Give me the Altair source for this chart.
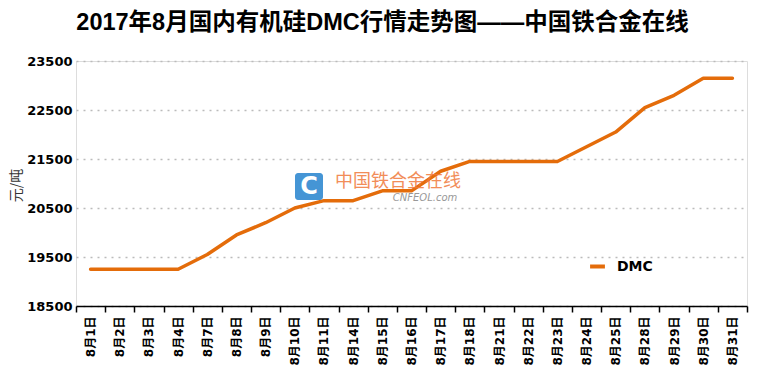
import altair as alt
import pandas as pd

dates = ["8月1日", "8月2日", "8月3日", "8月4日", "8月7日", "8月8日", "8月9日", "8月10日",
         "8月11日", "8月14日", "8月15日", "8月16日", "8月17日", "8月18日", "8月21日", "8月22日",
         "8月23日", "8月24日", "8月25日", "8月28日", "8月29日", "8月30日", "8月31日"]
dmc = [19250, 19250, 19250, 19250, 19550, 19950, 20200, 20500,
       20650, 20650, 20850, 20850, 21250, 21450, 21450, 21450,
       21450, 21750, 22050, 22550, 22800, 23150, 23150]
y_ticks = [18500, 19500, 20500, 21500, 22500, 23500]
series_name = "DMC"

df = pd.DataFrame({"date": dates, "value": dmc, "series": series_name})

ORANGE = "#E46C0A"
LABEL_FONT = "DejaVu Sans, Noto Sans CJK SC"

line = alt.Chart(df).mark_line(strokeWidth=3.5, strokeCap="round", strokeJoin="round").encode(
    x=alt.X("date:N", sort=dates, bandPosition=0.5,
            scale=alt.Scale(type="band", paddingInner=0, paddingOuter=0),
            axis=alt.Axis(title=None, grid=False, labelAngle=270, tickBand="extent",
                          domainColor="#000", domainWidth=1.5, tickColor="#000", tickWidth=1.5,
                          tickSize=6, labelPadding=4, labelFont=LABEL_FONT, labelFontSize=12,
                          labelFontWeight="bold", labelColor="#000")),
    y=alt.Y("value:Q", scale=alt.Scale(domain=[18500, 23500], nice=False, zero=False),
            axis=alt.Axis(title="元/吨", values=y_ticks, format="d", grid=True,
                          gridDash=[2, 5], gridColor="#BBBBBB", gridWidth=1.5,
                          domain=False, ticks=False, labelPadding=4,
                          labelFont=LABEL_FONT, labelFontSize=13, labelFontWeight="bold",
                          labelColor="#000", titleFont="Noto Sans CJK SC", titleFontSize=14,
                          titleFontWeight="normal", titleColor="#333", titleX=-60, titleY=124,
                          titleAngle=270, titleBaseline="middle")),
    color=alt.Color("series:N", scale=alt.Scale(domain=[series_name], range=[ORANGE]),
                    legend=alt.Legend(title=None, orient="none", legendX=512, legendY=196,
                                      symbolType="stroke", symbolStrokeWidth=4, symbolSize=220,
                                      labelFont=LABEL_FONT, labelFontSize=14,
                                      labelFontWeight="bold", labelColor="#000", padding=0,
                                      labelOffset=10)),
)

# watermark (decoration)
wm_box = alt.Chart(pd.DataFrame({"a": [0]})).mark_rect(color="#3B8FD3", cornerRadius=3, opacity=0.95).encode(
    x=alt.value(219), x2=alt.value(247), y=alt.value(112), y2=alt.value(139))
wm_c = alt.Chart(pd.DataFrame({"a": [0]})).mark_text(text="C", color="white", font="DejaVu Sans",
                                                      fontWeight="bold", fontSize=24, align="center",
                                                      baseline="middle").encode(
    x=alt.value(233), y=alt.value(126))
wm_cn = alt.Chart(pd.DataFrame({"a": [0]})).mark_text(text="中国铁合金在线", color="#F07A3C", opacity=0.85,
                                                       font="Noto Sans CJK SC", fontSize=18,
                                                       align="center", baseline="middle").encode(
    x=alt.value(322), y=alt.value(121))
wm_en = alt.Chart(pd.DataFrame({"a": [0]})).mark_text(text="CNFEOL.com", color="#999999",
                                                       font="DejaVu Sans", fontStyle="italic",
                                                       fontSize=10, align="center",
                                                       baseline="middle").encode(
    x=alt.value(349), y=alt.value(137))

chart = alt.layer(line, wm_box, wm_c, wm_cn, wm_en).properties(
    width=671, height=245,
    title=alt.TitleParams("2017年8月国内有机硅DMC行情走势图——中国铁合金在线",
                          font="Liberation Sans Narrow, Liberation Sans, Noto Sans CJK SC",
                          fontSize=23.5, fontWeight="bold", color="#000",
                          anchor="middle", dx=-29, offset=21),
    autosize=alt.AutoSizeParams(type="none"),
    padding={"left": 76, "top": 61, "right": 13, "bottom": 70},
).configure_view(stroke=None).configure(background="white")

chart.save("out.html", embed_options={"renderer": "svg", "actions": False})
